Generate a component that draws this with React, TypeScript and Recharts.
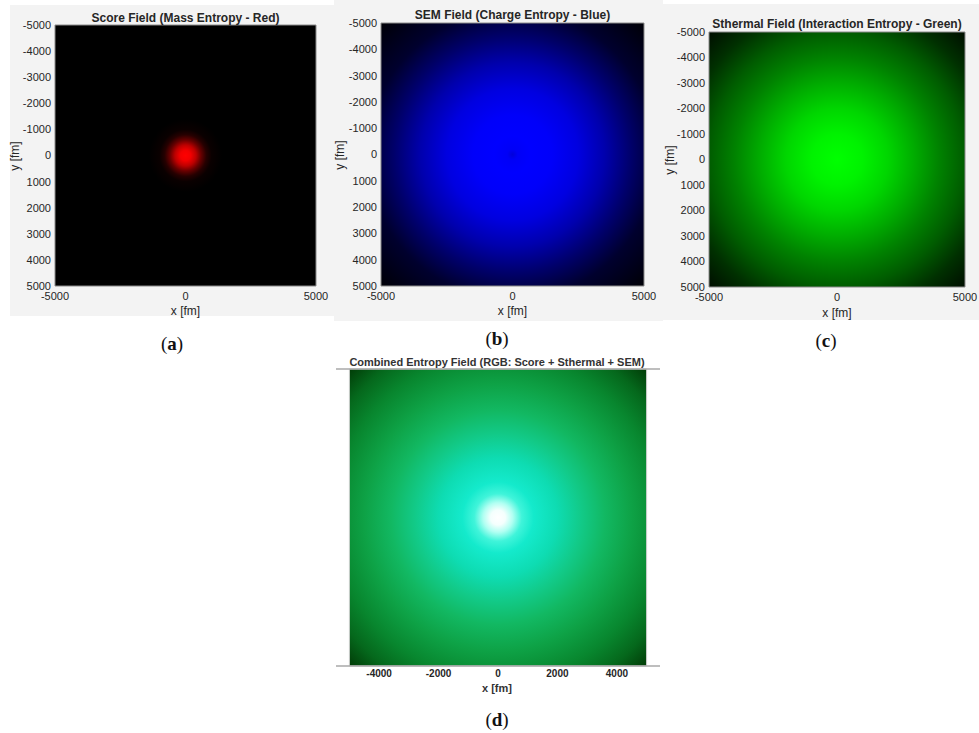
import React from "react";
import { ScatterChart, Scatter, XAxis, YAxis, ReferenceArea, ReferenceLine } from "recharts";

// tick values
const fieldTicks = [-5000, -4000, -3000, -2000, -1000, 0, 1000, 2000, 3000, 4000, 5000];
const edgeTicks = [-5000, 0, 5000];
const combinedTicks = [-4000, -2000, 0, 2000, 4000];
const fieldCenter = [{ x: 0, y: 0 }];

// radial profiles: distance from the centre in fm -> brightness (0..1)
const scoreRadius = [0, 200, 400, 600, 800, 1000, 1400];
const scoreLevel = [1, 0.95, 0.74, 0.4, 0.15, 0.04, 0];

const semRadius = [0, 200, 700, 1500, 2500, 3500, 4500, 5500, 7100];
const semLevel = [0.86, 0.97, 1, 0.98, 0.88, 0.68, 0.42, 0.18, 0.02];

const sthermalRadius = [0, 1000, 2000, 3000, 4000, 5000, 6000, 7100];
const sthermalLevel = [1, 0.95, 0.84, 0.68, 0.51, 0.36, 0.19, 0.05];

const combinedRadius = [0, 250, 500, 800, 1200, 2000, 2800, 3600, 4500, 5500, 6300, 7100];
const combinedColor = [
  "#ffffff", "#f4fffd", "#b0fff2", "#40f4da", "#14eacc", "#0edcb2", "#12ca88",
  "#12b862", "#0ea246", "#08862e", "#05681c", "#013a06",
];

const red = (l: number) => `rgb(${Math.round(255 * l)},0,0)`;
const green = (l: number) => `rgb(0,${Math.round(255 * l)},0)`;
const blue = (l: number) => `rgb(0,0,${Math.round(255 * l)})`;

const FONT = '"Liberation Sans", Arial, sans-serif';
const PANEL_BG = "#f3f3f3";
const EXTRA = 20; // room to the right so the last tick label is not clipped

type Box = { left: number; top: number; width: number; height: number };
type Plot = { x: number; y: number; w: number; h: number };

interface PanelProps {
  id: string;
  box: Box;
  plot: Plot;
  radius: number[];
  colors: string[];
  title: string;
  titleY: number;
  xLabelY: number;
  yLabelX: number;
}

const Txt = ({ x, y, children, style }: any) => (
  <div
    style={{
      position: "absolute",
      left: x,
      top: y,
      lineHeight: 1,
      transform: "translate(-50%, -50%)",
      whiteSpace: "nowrap",
      ...style,
    }}
  >
    {children}
  </div>
);

const gradient = (id: string, radius: number[], colors: string[]) => {
  const max = radius[radius.length - 1];
  return (
    <defs>
      <radialGradient id={id} cx="50%" cy="50%" r={max / 10000}>
        {radius.map((d, i) => (
          <stop key={i} offset={d / max} stopColor={colors[i]} />
        ))}
      </radialGradient>
    </defs>
  );
};

const tickStyle = { fontSize: 11, fill: "#262626", fontFamily: FONT };

// one of the three upper panels (screenshots on a grey background)
const FieldPanel = ({ id, box, plot, radius, colors, title, titleY, xLabelY, yLabelX }: PanelProps) => {
  const yAxisWidth = 40;
  const xAxisHeight = 20;
  const margin = {
    top: plot.y - box.top,
    left: plot.x - box.left - yAxisWidth,
    right: box.left + box.width - (plot.x + plot.w) + EXTRA,
    bottom: box.top + box.height - (plot.y + plot.h) - xAxisHeight,
  };
  return (
    <>
      <div style={{ position: "absolute", ...box, background: PANEL_BG }} />
      <div style={{ position: "absolute", left: box.left, top: box.top }}>
        <ScatterChart width={box.width + EXTRA} height={box.height} margin={margin}>
          {gradient(id, radius, colors)}
          <XAxis
            type="number"
            dataKey="x"
            domain={[-5000, 5000]}
            ticks={edgeTicks}
            interval={0}
            height={xAxisHeight}
            axisLine={false}
            tickLine={false}
            tickSize={5}
            tickMargin={1}
            tick={tickStyle}
          />
          <YAxis
            type="number"
            dataKey="y"
            domain={[-5000, 5000]}
            reversed
            ticks={fieldTicks}
            interval={0}
            width={yAxisWidth}
            axisLine={false}
            tickLine={false}
            tickSize={3}
            tickMargin={1}
            tick={tickStyle}
          />
          <ReferenceArea
            x1={-5000}
            x2={5000}
            y1={-5000}
            y2={5000}
            fill={`url(#${id})`}
            fillOpacity={1}
            stroke="#8a8a8a"
            strokeWidth={1}
          />
          <Scatter data={fieldCenter} isAnimationActive={false} shape={() => <g />} />
        </ScatterChart>
      </div>
      <Txt x={plot.x + plot.w / 2} y={titleY} style={{ fontSize: 12, fontWeight: "bold", color: "#262626" }}>
        {title}
      </Txt>
      <Txt x={plot.x + plot.w / 2} y={xLabelY} style={{ fontSize: 12, color: "#262626" }}>
        x [fm]
      </Txt>
      <Txt
        x={yLabelX}
        y={plot.y + plot.h / 2}
        style={{ fontSize: 12, color: "#262626", transform: "translate(-50%, -50%) rotate(-90deg)" }}
      >
        y [fm]
      </Txt>
    </>
  );
};

const CombinedPanel = () => {
  const box = { left: 330, top: 345, width: 340, height: 388 };
  // axis lines run a little past the image on both sides
  const plot = { x: 336, y: 369, w: 324, h: 297 };
  const xAxisHeight = 20;
  const margin = {
    top: plot.y - box.top,
    left: plot.x - box.left,
    right: box.left + box.width - (plot.x + plot.w),
    bottom: box.top + box.height - (plot.y + plot.h) - xAxisHeight,
  };
  const boldTick = { ...tickStyle, fontSize: 10, fontWeight: "bold" };
  const frame = { stroke: "#a8a8a8", strokeWidth: 1.5 };
  return (
    <>
      <div style={{ position: "absolute", left: box.left, top: box.top }}>
        <ScatterChart width={box.width} height={box.height} margin={margin}>
          {gradient("combined", combinedRadius, combinedColor)}
          <XAxis
            type="number"
            dataKey="x"
            domain={[-5450, 5450]}
            ticks={combinedTicks}
            interval={0}
            height={xAxisHeight}
            axisLine={frame}
            tickLine={false}
            tickSize={3}
            tickMargin={1}
            tick={boldTick}
          />
          <YAxis type="number" dataKey="y" domain={[-5000, 5000]} reversed hide />
          <ReferenceArea
            x1={-5000}
            x2={5000}
            y1={-5000}
            y2={5000}
            fill="url(#combined)"
            fillOpacity={1}
            stroke="#d0d0d0"
            strokeWidth={1}
          />
          <ReferenceLine y={-5000} {...frame} />
          <Scatter data={fieldCenter} isAnimationActive={false} shape={() => <g />} />
        </ScatterChart>
      </div>
      <Txt x={497} y={362} style={{ fontSize: 11, fontWeight: "bold", color: "#333" }}>
        Combined Entropy Field (RGB: Score + Sthermal + SEM)
      </Txt>
      <Txt x={497} y={688} style={{ fontSize: 11, fontWeight: "bold", color: "#333" }}>
        x [fm]
      </Txt>
    </>
  );
};

const Letter = ({ x, y, letter }: { x: number; y: number; letter: string }) => (
  <Txt x={x} y={y} style={{ fontFamily: '"Liberation Serif", serif', fontSize: 19, color: "#111" }}>
    (<b>{letter}</b>)
  </Txt>
);

export default function App() {
  return (
    <div
      style={{
        position: "absolute",
        left: 0,
        top: 0,
        width: 979,
        height: 733,
        background: "#fff",
        overflow: "hidden",
        fontFamily: FONT,
      }}
    >
      <FieldPanel
        id="score"
        box={{ left: 10, top: 5, width: 324, height: 311 }}
        plot={{ x: 55, y: 25, w: 261, h: 261 }}
        radius={scoreRadius}
        colors={scoreLevel.map(red)}
        title="Score Field (Mass Entropy - Red)"
        titleY={18}
        xLabelY={311}
        yLabelX={15}
      />
      <FieldPanel
        id="sem"
        box={{ left: 334, top: 0, width: 329, height: 321 }}
        plot={{ x: 381, y: 23, w: 263, h: 263 }}
        radius={semRadius}
        colors={semLevel.map(blue)}
        title="SEM Field (Charge Entropy - Blue)"
        titleY={15}
        xLabelY={311}
        yLabelX={340}
      />
      <FieldPanel
        id="sthermal"
        box={{ left: 663, top: 4, width: 316, height: 316 }}
        plot={{ x: 709, y: 32, w: 256, h: 255 }}
        radius={sthermalRadius}
        colors={sthermalLevel.map(green)}
        title="Sthermal Field (Interaction Entropy - Green)"
        titleY={24}
        xLabelY={313}
        yLabelX={670}
      />
      <CombinedPanel />
      <Letter x={172} y={343} letter="a" />
      <Letter x={497} y={338} letter="b" />
      <Letter x={826} y={340} letter="c" />
      <Letter x={497} y={719} letter="d" />
    </div>
  );
}
